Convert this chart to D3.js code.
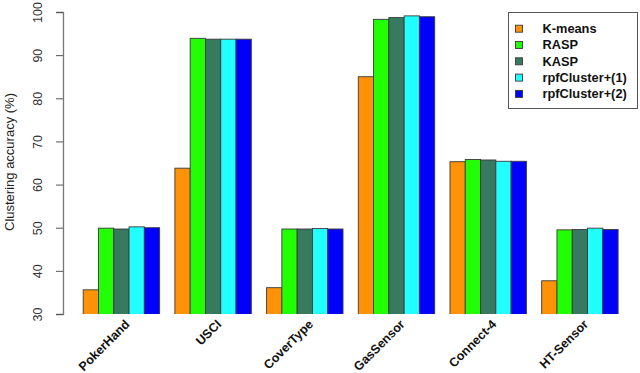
<!DOCTYPE html>
<html><head><meta charset="utf-8">
<script src="https://cdn.jsdelivr.net/npm/d3@7"></script>
<style>body{margin:0;background:#fff}svg{display:block}</style>
</head><body>
<svg id="c" width="640" height="373"></svg>
<script>
const categories = ["PokerHand","USCI","CoverType","GasSensor","Connect-4","HT-Sensor"];
const seriesNames = ["K-means","RASP","KASP","rpfCluster+(1)","rpfCluster+(2)"];
const kmeans = [35.6, 63.8, 36.1, 85.0, 65.3, 37.7];
const rasp   = [49.9, 93.9, 49.7, 98.3, 65.8, 49.5];
const kasp   = [49.7, 93.7, 49.7, 98.7, 65.7, 49.6];
const rpf1   = [50.2, 93.7, 49.8, 99.1, 65.4, 49.9];
const rpf2   = [50.0, 93.7, 49.7, 98.9, 65.4, 49.6];
const yTicks = [30,40,50,60,70,80,90,100];
const colors = ["#ff9207","#22ff05","#377a60","#22ffff","#0000ff"];
const series = [kmeans, rasp, kasp, rpf1, rpf2];

const svg = d3.select("#c");
const y = d3.scaleLinear().domain([30,100]).range([314,12]);
const x0 = d3.scaleBand().domain(categories).range([83.2, 618.1]).paddingInner(1/6).paddingOuter(0);
const x1 = d3.scaleBand().domain(seriesNames).range([0, x0.bandwidth()]);

svg.append("defs").append("clipPath").attr("id","pc")
  .append("rect").attr("x",60).attr("y",0).attr("width",580).attr("height",314);

const g = svg.append("g").attr("clip-path","url(#pc)");
categories.forEach((c,i)=>{
  seriesNames.forEach((s,j)=>{
    const v = series[j][i];
    g.append("rect")
      .attr("x", x0(c)+x1(s))
      .attr("y", y(v))
      .attr("width", x1.bandwidth())
      .attr("height", 330 - y(v))
      .attr("fill", colors[j])
      .attr("stroke","#3a3a3a").attr("stroke-width",0.9);
  });
});

// y axis
const ax = svg.append("g").attr("transform","translate(63,0)")
  .call(d3.axisLeft(y).tickValues(yTicks).tickSize(7).tickFormat(d3.format("d")));
ax.select(".domain").attr("stroke","#777").attr("stroke-width",1.3);
ax.selectAll(".tick line").attr("stroke","#555");
ax.selectAll(".tick text")
  .attr("font-family","Liberation Sans, Arial, sans-serif").attr("font-size",12.5).attr("fill","#333")
  .attr("text-anchor","middle").attr("x",0).attr("y",0)
  .attr("transform","translate(-25,0) rotate(-90)").attr("dy","0.35em");

svg.append("text")
  .attr("transform","translate(9,162) rotate(-90)")
  .attr("text-anchor","middle").attr("dy","0.35em")
  .attr("font-family","Liberation Sans, Arial, sans-serif").attr("font-size",13).attr("fill","#222")
  .text("Clustering accuracy (%)");

// x labels
categories.forEach(c=>{
  const cx = x0(c) + x0.bandwidth()/2 + 9;
  svg.append("text")
    .attr("transform",`translate(${cx},325) rotate(-45)`)
    .attr("text-anchor","end")
    .attr("font-family","Liberation Sans, Arial, sans-serif").attr("font-size",12.5).attr("font-weight","bold").attr("fill","#111")
    .text(c);
});

// legend
const lg = svg.append("g");
lg.append("rect").attr("x",508.5).attr("y",12.5).attr("width",129).attr("height",96)
  .attr("fill","#fff").attr("stroke","#555").attr("stroke-width",1);
seriesNames.forEach((s,j)=>{
  const yy = 28.7 + j*16.3;
  lg.append("rect").attr("x",515.5).attr("y",yy-3.5).attr("width",7).attr("height",7)
    .attr("fill",colors[j]).attr("stroke","#3a3a3a").attr("stroke-width",0.9);
  lg.append("text").attr("x",542.5).attr("y",yy).attr("dy","0.35em")
    .attr("font-family","Liberation Sans, Arial, sans-serif").attr("font-size",12.8).attr("font-weight","bold").attr("fill","#111")
    .text(s);
});
</script>
</body></html>
